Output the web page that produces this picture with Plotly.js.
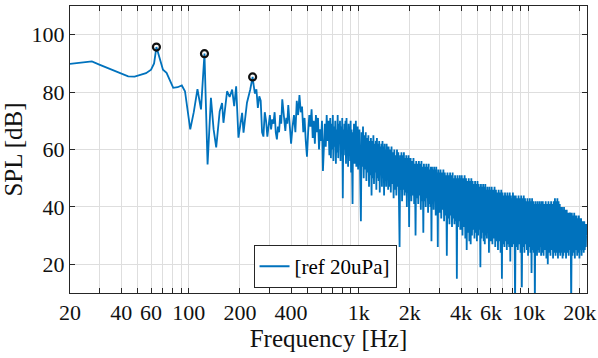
<!DOCTYPE html>
<html>
<head>
<meta charset="utf-8">
<script src="https://cdn.plot.ly/plotly-3.0.1.min.js"></script>
<style>
html,body{margin:0;padding:0;background:#fff;}
#chart{width:598px;height:358px;}
</style>
</head>
<body>
<div id="chart"></div>
<script>
// ---- Spectrum data (frequency in Hz, SPL in dB re 20 uPa) ----
var freqLow = [20, 23, 26.9, 30, 35, 40, 44, 48, 52, 56, 60, 62.5, 64.5, 67, 70.5, 74, 78, 81, 86, 91, 95, 98, 102, 107, 112.5, 118, 123.7, 129, 135, 140, 145, 152, 157, 160, 168, 174, 180, 185, 190, 196, 206, 210, 220, 230, 237.5];
var splLow = [89.8, 90.2, 90.7, 89.5, 88.0, 86.5, 85.5, 85.4, 85.9, 86.6, 87.8, 90.0, 95.7, 92.0, 87.8, 86.7, 84.0, 81.5, 81.7, 82.3, 80.3, 74, 67, 73, 81, 74, 93.4, 54.8, 78, 67, 60.7, 73.3, 76.2, 69.3, 80.3, 78.3, 80.9, 75.1, 82, 64.1, 72.8, 65.9, 76.3, 80.9, 85.3];

var freqP = [240,245,250,255,260,265,270,275,280,285,290,295,300,305,310,315,320,325,330,335,340,345,350,355,360,365,370,375,380,385,390,395];
var splP  = [83,79.5,81,74.5,78.5,77,66,64.5,73,70,64.5,68,72,67,70.5,69,73,66,63.5,68,66,72,69,77.5,74,68,66.5,71,69,75.5,70,63.5];

var freqQ = [400,408,416,424,432,440,448,456,464,472,480,488,496,504,512,520,528,536,544,552,560,568,576,584,592,600,608,616,624,632,640,648,656,664,672];
var splQ  = [62,68,72,66,77,72,79,73,75,66,71,63,57.5,66,72,68,74,64,70,62,72,66,71,60,67,63,70,52.5,66,69,61,72,63,70,58];

var freqA = [680,686,692,698,704,710,716,722,728,734,740,746,752,758,764,770,776,782,788,794,800,806,812,818,824,830,836,842,848,854,860,866,872,878,884,890,896,902,908,914,920,926,932,938,944,950,956,962,968,974,980,986,992,998];
var splA  = [71,57,69,60,72,56,68,61,70,55,67,59,72,57,69,62,70,56,68,59,71,43,67,58,69,60,70,55,71,58,66,54,69,60,68,56,70,52,67,57,41,66,58,69,55,68,59,70,54,67,57,68,53,66];

var freqB = [1000,1010,1020,1030,1040,1050,1060,1070,1080,1090,1100,1110,1120,1130,1140,1150,1160,1170,1180,1190,1200,1210,1220,1230,1240,1250,1260,1270,1280,1290,1300,1310,1320,1330,1340,1350,1360,1370,1380,1390,1400,1410,1420,1430,1440,1450,1460,1470,1480,1490];
var splB  = [55,67,52,35,66,54,68,50,65,53,66,49,64,52,65,47,63,51,64,44,63,50,65,48,62,52,63,46,64,50,62,49,63,45,61,51,62,47,63,50,61,44,62,49,60,47,62,50,61,46];

var freqC = [1500,1515,1530,1545,1560,1575,1590,1605,1620,1635,1650,1665,1680,1695,1710,1725,1740,1755,1770,1785,1800,1815,1830,1845,1860,1875,1890,1905,1920,1935,1950,1965,1980,1995];
var splC  = [61,47,60,45,61,48,59,43,60,46,58,44,60,47,59,45,26,58,46,59,42,58,46,59,44,57,45,58,40,57,45,58,33,57];

var freqD = [2000,2020,2040,2060,2080,2100,2120,2140,2160,2180,2200,2220,2240,2260,2280,2300,2320,2340,2360,2380,2400,2420,2440,2460,2480,2500,2520,2540,2560,2580,2600,2620,2640,2660,2680,2700,2720,2740,2760,2780,2800,2820,2840,2860,2880,2900,2920,2940,2960,2980];
var splD  = [44,57,42,56,44,57,41,55,30,56,43,55,41,56,44,55,39,56,42,54,31,55,42,54,40,55,43,54,38,55,41,53,40,54,28,54,41,53,39,54,42,53,37,54,40,52,26,53,39,52];

var freqE = [3000,3030,3060,3090,3120,3150,3180,3210,3240,3270,3300,3330,3360,3390,3420,3450,3480,3510,3540,3570,3600,3630,3660,3690,3720,3750,3780,3810,3840,3870,3900,3930,3960,3990];
var splE  = [38,53,36,52,39,53,35,52,37,51,23,52,36,51,34,52,37,51,33,52,36,50,34,51,35,50,15,51,33,50,35,51,32,50];

var freqF = [4000,4040,4080,4120,4160,4200,4240,4280,4320,4360,4400,4440,4480,4520,4560,4600,4640,4680,4720,4760,4800,4840,4880,4920,4960,5000,5040,5080,5120,5160,5200,5240,5280,5320,5360,5400,5440,5480,5520,5560,5600,5640,5680,5720,5760,5800,5840,5880,5920,5960];
var splF  = [32,51,30,50,33,51,29,50,25,49,31,50,28,49,27,50,30,49,32,48,29,49,31,48,28,49,30,48,32,47,19,48,29,47,31,48,28,47,27,48,30,46,29,47,31,46,24,47,28,46];

var freqG = [6000,6060,6120,6180,6240,6300,6360,6420,6480,6540,6600,6660,6720,6780,6840,6900,6960,7020,7080,7140,7200,7260,7320,7380,7440,7500,7560,7620,7680,7740,7800,7860,7920,7980];
var splG  = [28,47,27,46,29,47,26,46,28,45,25,46,28,45,24,46,15,45,27,44,26,45,28,44,25,45,27,44,26,45,21,44,27,43];

var freqH = [8000,8080,8160,8240,8320,8400,8480,8560,8640,8720,8800,8880,8960,9040,9120,9200,9280,9360,9440,9520,9600,9680,9760,9840,9920,10000,10080,10160,10240,10320,10400,10480,10560,10640,10720,10800,10880,10960,11040,11120,11200,11280,11360,11440,11520,11600,11680,11760,11840,11920];
var splH  = [26,45,27,44,5,44,26,43,25,44,27,43,24,44,12,43,26,44,24,43,27,42,25,43,23,42,26,43,24,42,17,43,25,42,24,41,6,42,25,41,23,42,25,41,24,42,26,41,23,42];

var freqI = [12000,12120,12240,12360,12480,12600,12720,12840,12960,13080,13200,13320,13440,13560,13680,13800,13920,14040,14160,14280,14400,14520,14640,14760,14880,15000,15120,15240,15360,15480,15600,15720,15840,15960];
var splI  = [24,42,23,41,25,42,22,41,20,42,24,41,23,42,25,41,22,42,24,43,23,42,24,43,22,42,24,41,23,40,24,40,22,39];

var freqJ = [16000,16150,16300,16450,16600,16750,16900,17050,17200,17350,17500,17650,17800,17950,18100,18250,18400,18550,18700,18850,19000,19150,19300,19450,19600,19750,19900,20050,20200,20350,20500,20650,20800,20950,21100,21250,21400,21550,21700,21850,22050];
var splJ  = [23,40,24,39,22,39,24,38,23,38,25,38,5,38,23,37,24,38,22,37,25,37,23,36,24,37,22,36,25,36,23,35,25,35,24,35,25,34,26,34,30];

// Marked peaks
var peakFreq = [64.5, 123.7, 237.5];
var peakSPL  = [95.7, 93.4, 85.3];

// Axis ticks
var xTickVals = [20,30,40,50,60,70,80,90,100,200,300,400,500,600,700,800,900,1000,2000,3000,4000,5000,6000,7000,8000,9000,10000,20000];
var xTickText = ['20','','40','','60','','','','100','200','','400','','','','','','1k','2k','','4k','','6k','','','','10k','20k'];
var yTickVals = [20,40,60,80,100];

var seriesName = '[ref 20uPa]';

var fx = [].concat(freqLow, freqP, freqQ, freqA, freqB, freqC, freqD, freqE, freqF, freqG, freqH, freqI, freqJ);
var fy = [].concat(splLow, splP, splQ, splA, splB, splC, splD, splE, splF, splG, splH, splI, splJ);

var FONT = 'Liberation Serif';
var AX = '#262626';

var traces = [
  {x: fx, y: fy, type: 'scatter', mode: 'lines', name: seriesName,
   line: {color: '#0072BD', width: 1.8}},
  {x: peakFreq, y: peakSPL, type: 'scatter', mode: 'markers', showlegend: false,
   marker: {symbol: 'circle-open', size: 7, color: '#111', line: {width: 2.2, color: '#111'}}}
];

var layout = {
  width: 598, height: 358,
  margin: {l: 70, r: 11, t: 6, b: 65},
  paper_bgcolor: '#fff', plot_bgcolor: '#fff',
  font: {family: FONT, size: 22, color: '#111'},
  showlegend: true,
  legend: {x: 0.355, y: 0.017, xanchor: 'left', yanchor: 'bottom',
           bgcolor: '#fff', bordercolor: AX, borderwidth: 1,
           font: {family: FONT, size: 21, color: '#000'}, itemwidth: 30},
  xaxis: {type: 'log', range: [Math.log10(20), Math.log10(22050)],
          tickmode: 'array', tickvals: xTickVals, ticktext: xTickText,
          ticks: 'inside', ticklen: 5, tickcolor: AX, tickwidth: 1,
          showline: true, linecolor: AX, linewidth: 1, mirror: 'ticks',
          showgrid: true, gridcolor: '#dedede', gridwidth: 1, zeroline: false,
          tickfont: {family: FONT, size: 22, color: '#111'},
          title: {text: 'Frequency [Hz]', font: {family: FONT, size: 25, color: '#111'}, standoff: 4}},
  yaxis: {range: [10, 110], tickmode: 'array', tickvals: yTickVals,
          ticks: 'inside', ticklen: 5, tickcolor: AX, tickwidth: 1,
          showline: true, linecolor: AX, linewidth: 1, mirror: 'ticks',
          showgrid: true, gridcolor: '#dedede', gridwidth: 1, zeroline: false,
          tickfont: {family: FONT, size: 22, color: '#111'},
          title: {text: 'SPL [dB]', font: {family: FONT, size: 25, color: '#111'}, standoff: 6}}
};

Plotly.newPlot('chart', traces, layout, {displayModeBar: false, staticPlot: true});
</script>
</body>
</html>
